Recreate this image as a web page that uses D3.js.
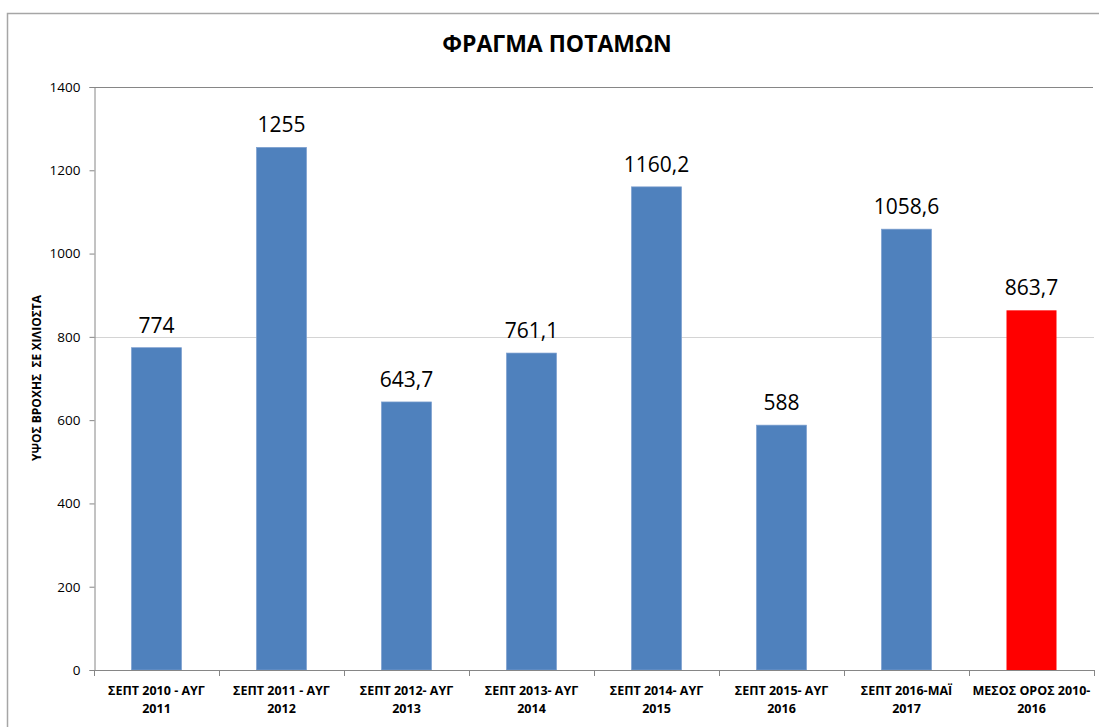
<!DOCTYPE html>
<html>
<head>
<meta charset="utf-8">
<script src="https://cdn.jsdelivr.net/npm/d3@7/dist/d3.min.js"></script>
<style>
  html, body { margin: 0; padding: 0; background: #fff; }
  svg { display: block; }
  text { font-family: "Open Sans", "Noto Sans", sans-serif; white-space: pre; }
</style>
</head>
<body>
<svg id="chart" width="1099" height="727"></svg>
<script>
const title = "ΦΡΑΓΜΑ ΠΟΤΑΜΩΝ";
const yTitle = "ΥΨΟΣ ΒΡΟΧΗΣ  ΣΕ ΧΙΛΙΟΣΤΑ";
const categories = [
  ["ΣΕΠΤ 2010 - ΑΥΓ", "2011"],
  ["ΣΕΠΤ 2011 - ΑΥΓ", "2012"],
  ["ΣΕΠΤ 2012- ΑΥΓ", "2013"],
  ["ΣΕΠΤ 2013- ΑΥΓ", "2014"],
  ["ΣΕΠΤ 2014- ΑΥΓ", "2015"],
  ["ΣΕΠΤ 2015- ΑΥΓ", "2016"],
  ["ΣΕΠΤ 2016-ΜΑΪ", "2017"],
  ["ΜΕΣΟΣ ΟΡΟΣ 2010-", "2016"]
];
const values = [774, 1255, 643.7, 761.1, 1160.2, 588, 1058.6, 863.7];
const valueLabels = ["774", "1255", "643,7", "761,1", "1160,2", "588", "1058,6", "863,7"];
const isAverage = [false, false, false, false, false, false, false, true];
const yTicks = [0, 200, 400, 600, 800, 1000, 1200, 1400];
const gridValues = [800];

(function () {
const svg = d3.select("#chart");
const mLeft = 94, mRight = 1094, mTop = 87, mBottom = 670;

// outer frame
svg.append("rect").attr("x", 7.5).attr("y", 13.5).attr("width", 1100).attr("height", 730)
  .attr("fill", "#fff").attr("stroke", "#a6a6a6").attr("stroke-width", 1.5);

const x = d3.scaleBand().domain(d3.range(categories.length)).range([mLeft, mRight])
  .paddingInner(0.6).paddingOuter(0.3);
const y = d3.scaleLinear().domain([0, 1400]).range([mBottom, mTop]);

// gridline(s)
svg.append("g").selectAll("line").data(gridValues).join("line")
  .attr("x1", mLeft).attr("x2", mRight)
  .attr("y1", d => Math.round(y(d)) + 0.5).attr("y2", d => Math.round(y(d)) + 0.5)
  .attr("stroke", "#d4d4d4").attr("stroke-width", 1);

// top border line of plot
svg.append("line").attr("x1", mLeft).attr("x2", mRight - 1)
  .attr("y1", mTop + 0.5).attr("y2", mTop + 0.5).attr("stroke", "#868686");

// bars
svg.append("g").selectAll("rect").data(values).join("rect")
  .attr("x", (d, i) => x(i)).attr("width", x.bandwidth())
  .attr("y", d => y(d)).attr("height", d => y(0) - y(d))
  .attr("fill", (d, i) => isAverage[i] ? "#ff0000" : "#4f81bd")
  .attr("stroke", (d, i) => isAverage[i] ? "none" : "#7d9fcf").attr("stroke-width", 0.7);

// value labels
svg.append("g").selectAll("text").data(values).join("text")
  .attr("x", (d, i) => x(i) + x.bandwidth() / 2)
  .attr("y", d => y(d) - 15)
  .attr("text-anchor", "middle")
  .attr("font-size", 21).attr("fill", "#000")
  .text((d, i) => valueLabels[i]);

// y axis
const yAxis = d3.axisLeft(y).tickValues(yTicks).tickSize(5).tickPadding(9).tickFormat(d3.format("d"));
const gy = svg.append("g").attr("transform", `translate(${mLeft + 0.5},0)`).call(yAxis);
gy.select(".domain").attr("stroke", "#868686");
gy.selectAll(".tick line").attr("stroke", "#868686");
gy.selectAll(".tick text").attr("font-size", 13.5).attr("fill", "#000")
  .attr("font-family", "Open Sans, sans-serif");

// x axis
const boundaries = d3.range(categories.length + 1).map(i => x.range()[0] + i * x.step());
svg.append("line").attr("x1", mLeft).attr("x2", mRight).attr("y1", mBottom + 0.5).attr("y2", mBottom + 0.5)
  .attr("stroke", "#868686");
svg.append("g").selectAll("line").data(boundaries).join("line")
  .attr("x1", d => Math.round(d) + 0.5).attr("x2", d => Math.round(d) + 0.5)
  .attr("y1", mBottom).attr("y2", mBottom + 6).attr("stroke", "#868686");

const xl = svg.append("g").selectAll("text").data(categories).join("text")
  .attr("text-anchor", "middle").attr("font-size", 12.5).attr("font-weight", "bold").attr("fill", "#000");
xl.each(function(d, i) {
  const cx = x(i) + x.bandwidth() / 2;
  d3.select(this).selectAll("tspan").data(d).join("tspan")
    .attr("x", cx).attr("y", (t, j) => 695 + j * 18).text(t => t);
});

// title
svg.append("text").attr("x", 557).attr("y", 52).attr("text-anchor", "middle")
  .attr("font-size", 23).attr("font-weight", "bold").attr("fill", "#000").text(title);

// y title
svg.append("text").attr("transform", "translate(41,378) rotate(-90)")
  .attr("text-anchor", "middle").attr("font-size", 12).attr("font-weight", "bold")
  .attr("fill", "#000").text(yTitle);
})();
</script>
</body>
</html>
